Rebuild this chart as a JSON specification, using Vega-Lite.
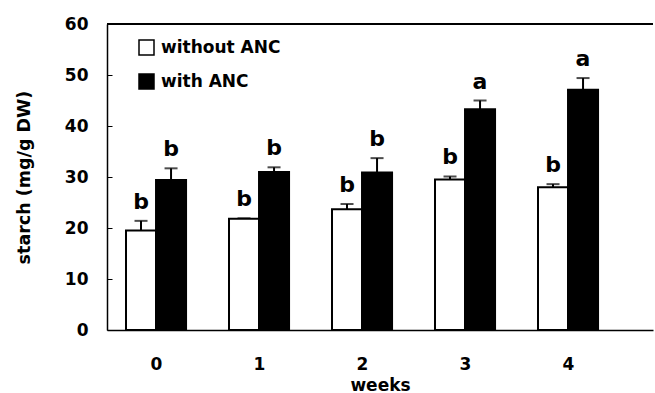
{
  "$schema": "https://vega.github.io/schema/vega-lite/v6.json",
  "autosize": {"type": "none"},
  "width": 546,
  "height": 306,
  "padding": {"left": 107, "top": 24, "right": 2, "bottom": 63},
  "background": "white",
  "config": {
    "view": {"stroke": null},
    "font": "DejaVu Sans",
    "axis": {"grid": false, "domainColor": "black", "domainWidth": 1.5, "tickColor": "black", "tickWidth": 1, "labelColor": "black", "titleColor": "black", "labelFont": "DejaVu Sans", "titleFont": "DejaVu Sans"}
  },
  "data": {
    "values": [
      {"week": "0", "group": "without ANC", "value": 19.5, "err": 21.4, "letter": "b"},
      {"week": "0", "group": "with ANC", "value": 29.4, "err": 31.7, "letter": "b"},
      {"week": "1", "group": "without ANC", "value": 21.8, "err": 21.9, "letter": "b"},
      {"week": "1", "group": "with ANC", "value": 31.0, "err": 31.9, "letter": "b"},
      {"week": "2", "group": "without ANC", "value": 23.7, "err": 24.7, "letter": "b"},
      {"week": "2", "group": "with ANC", "value": 30.9, "err": 33.7, "letter": "b"},
      {"week": "3", "group": "without ANC", "value": 29.5, "err": 30.1, "letter": "b"},
      {"week": "3", "group": "with ANC", "value": 43.3, "err": 45.0, "letter": "a"},
      {"week": "4", "group": "without ANC", "value": 28.0, "err": 28.6, "letter": "b"},
      {"week": "4", "group": "with ANC", "value": 47.1, "err": 49.4, "letter": "a"}
    ]
  },
  "encoding": {
    "x": {
      "field": "week", "type": "nominal", "sort": ["0", "1", "2", "3", "4"],
      "scale": {"paddingInner": 0.417, "paddingOuter": 0.359, "align": 0.257},
      "axis": {"title": "weeks", "labelAngle": 0, "labelFontSize": 17, "labelFontWeight": "bold", "labelPadding": 31, "tickBand": "extent", "tickSize": -5, "titleFontSize": 17, "titleFontWeight": "bold", "titleBaseline": "alphabetic", "titleY": 60}
    },
    "xOffset": {"field": "group", "type": "nominal", "sort": ["without ANC", "with ANC"], "scale": {"paddingInner": 0, "paddingOuter": 0}}
  },
  "layer": [
    {
      "mark": {"type": "rule", "color": "black", "strokeWidth": 1.5},
      "encoding": {"y": {"datum": 60}, "x": null, "xOffset": null}
    },
    {
      "mark": {"type": "rule", "color": "black", "strokeWidth": 2},
      "encoding": {
        "y": {"field": "value", "type": "quantitative"},
        "y2": {"field": "err"}
      }
    },
    {
      "mark": {"type": "tick", "color": "black", "orient": "horizontal", "size": 13, "thickness": 2},
      "encoding": {"y": {"field": "err", "type": "quantitative"}}
    },
    {
      "mark": {"type": "bar", "stroke": "black", "strokeWidth": 2},
      "encoding": {
        "y": {
          "field": "value", "type": "quantitative",
          "scale": {"domain": [0, 60], "nice": false},
          "axis": {"title": "starch (mg/g DW)", "values": [0, 10, 20, 30, 40, 50, 60], "labelFontSize": 17, "labelFontWeight": "bold", "labelPadding": 24, "tickSize": -5, "titleFontSize": 17.5, "titleFontWeight": "bold", "titlePadding": 31}
        },
        "fill": {
          "field": "group", "type": "nominal",
          "sort": ["without ANC", "with ANC"],
          "scale": {"domain": ["without ANC", "with ANC"], "range": ["white", "black"]},
          "legend": {
            "title": null, "orient": "none", "legendX": 31, "legendY": 15,
            "symbolType": "square", "symbolSize": 225, "symbolStrokeColor": "black", "symbolStrokeWidth": 1.5,
            "labelFont": "DejaVu Sans", "labelFontSize": 17, "labelFontWeight": "bold", "labelColor": "black", "labelOffset": 6, "rowPadding": 13
          }
        }
      }
    },
    {
      "mark": {"type": "text", "fontSize": 22, "fontWeight": "bold", "baseline": "alphabetic", "dy": -12, "color": "black"},
      "encoding": {
        "y": {"field": "err", "type": "quantitative"},
        "text": {"field": "letter"}
      }
    }
  ]
}
